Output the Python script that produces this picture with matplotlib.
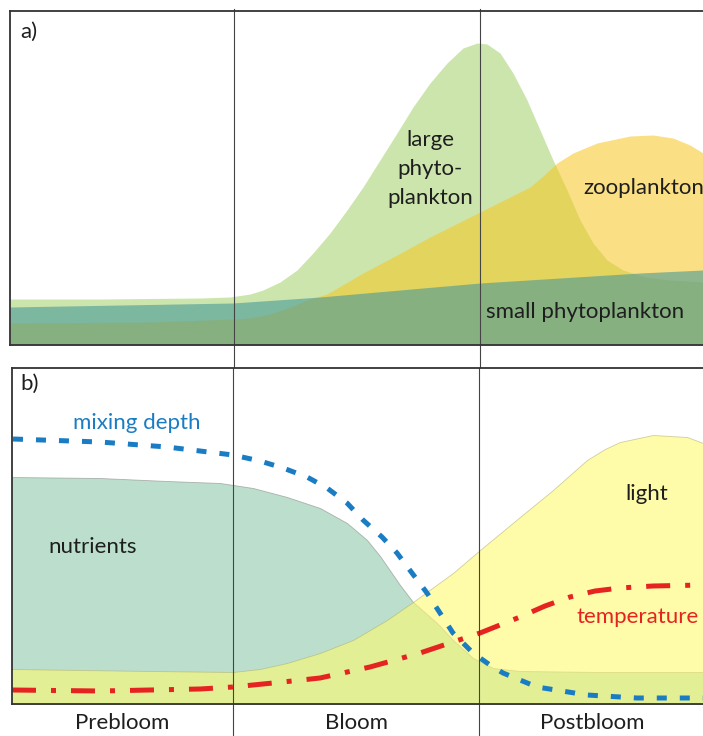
import matplotlib
matplotlib.use("Agg")
import matplotlib.pyplot as plt

plt.rcParams["font.family"] = ["Lato", "DejaVu Sans"]

# ── data (x in arbitrary time units, y in arbitrary magnitude units) ─────────

# panel a: plankton
large_x = [0, 90, 190, 220, 240, 253, 270, 287, 303, 320, 337, 353, 370,
           387, 403, 420, 437, 453, 467, 477, 490, 503, 517, 530, 543, 557,
           570, 583, 597, 613, 635, 660, 693]
large_y = [46, 46, 47, 48, 51, 55, 63, 75, 92, 112, 135, 158, 185,
           212, 238, 262, 282, 297, 302, 301, 292, 272, 245, 215, 185, 155,
           125, 102, 85, 75, 68, 65, 63]

zoo_x = [0, 140, 223, 240, 260, 280, 300, 317, 353, 387, 420, 470, 520,
         533, 547, 563, 587, 620, 643, 663, 680, 693]
zoo_y = [22, 23, 26, 27, 31, 38, 46, 51, 72, 90, 108, 133, 158,
         169, 182, 192, 202, 209, 210, 207, 200, 192]

small_x = [0, 223, 310, 390, 470, 550, 630, 693]
small_y = [38, 42, 48, 55, 62, 67, 72, 75]

# panel b: environment
nutr_x = [0, 90, 157, 210, 243, 277, 310, 337, 357, 370, 390, 403, 427,
          443, 463, 483, 510, 590, 693]
nutr_y = [227, 226, 223, 221, 216, 207, 196, 181, 164, 148, 119, 102, 81,
          64, 46, 36, 33, 32, 32]

light_x = [0, 140, 223, 250, 277, 310, 343, 377, 403, 443, 470, 510, 543,
           577, 595, 610, 643, 677, 693]
light_y = [35, 33, 32, 35, 41, 51, 64, 84, 102, 131, 154, 187, 214,
           244, 255, 262, 269, 267, 261]

mix_x = [3, 90, 157, 223, 250, 273, 297, 317, 337, 353, 372, 387, 402,
         417, 430, 443, 463, 480, 493, 527, 577, 627, 693]
mix_y = [265, 262, 257, 249, 243, 236, 227, 216, 201, 184, 167, 151, 131,
         111, 91, 71, 51, 39, 31, 17, 9, 6, 6]

temp_x = [2, 90, 190, 223, 273, 310, 360, 410, 440, 470, 510, 535, 560,
          585, 610, 643, 693]
temp_y = [14, 13, 15, 17, 22, 26, 37, 51, 61, 71, 87, 98, 107,
          113, 116, 118, 119]

phase_bounds = [223.5, 469.5]
phase_names = ["Prebloom", "Bloom", "Postbloom"]
phase_centres = [112, 347, 582]


# ── figure ────────────────────────────────────────────────────────────────────

fig = plt.figure(figsize=(7.03, 7.36), dpi=100)
H = 736.0
ax_a = fig.add_axes([10 / 703, 1 - 345 / H, 693 / 703, 334 / H])
ax_b = fig.add_axes([12 / 703, 1 - 704 / H, 691 / 703, 336 / H])

ax_a.set_xlim(0, 693)
ax_a.set_ylim(0, 334)
ax_b.set_xlim(2, 693)
ax_b.set_ylim(0, 336)

for ax in (ax_a, ax_b):
    ax.set_xticks([])
    ax.set_yticks([])
    ax.spines["right"].set_visible(False)
    for s in ("left", "top", "bottom"):
        ax.spines[s].set_linewidth(1.3)
        ax.spines[s].set_color("#333333")

TXT = "#1e1e1e"
FS = 16

# ── panel a ──────────────────────────────────────────────────────────────────
ax_a.fill_between(large_x, 0, large_y, color="#9ACD5A", alpha=0.5, lw=0)
ax_a.fill_between(zoo_x, 0, zoo_y, color="#F7C61F", alpha=0.55, lw=0)
ax_a.fill_between(small_x, 0, small_y, color="#489998", alpha=0.6, lw=0)

ax_a.text(10, 313, "a)", fontsize=FS, va="center", ha="left", color=TXT)
ax_a.text(420, 176, "large\nphyto-\nplankton", fontsize=FS, ha="center",
          va="center", linespacing=1.55, color=TXT)
ax_a.text(573, 157, "zooplankton", fontsize=FS, ha="left", va="center",
          color=TXT, clip_on=False)
ax_a.text(476, 33, "small phytoplankton", fontsize=FS, ha="left",
          va="center", color=TXT)

# ── panel b ──────────────────────────────────────────────────────────────────
ax_b.fill_between(nutr_x, 0, nutr_y, facecolor="#8FCBAB", alpha=0.6,
                  edgecolor="#888888", lw=0.6)
ax_b.fill_between(light_x, 0, light_y, facecolor="#FFFA70", alpha=0.6,
                  edgecolor="#B0B070", lw=0.6)

ax_b.plot(mix_x, mix_y, color="#1A7DC4", lw=3.6,
          linestyle=(0, (2.0, 2.6)), dash_capstyle="butt")
ax_b.plot(temp_x, temp_y, color="#E52421", lw=3.6,
          linestyle=(0, (4.8, 3.0, 1.0, 3.0)), dash_capstyle="butt")

ax_b.text(10, 320, "b)", fontsize=FS, va="center", ha="left", color=TXT)
ax_b.text(63, 281, "mixing depth", fontsize=FS, va="center", ha="left",
          color="#1A7DC4")
ax_b.text(38, 157, "nutrients", fontsize=FS, va="center", ha="left",
          color=TXT)
ax_b.text(615, 210, "light", fontsize=FS, va="center", ha="left",
          color=TXT)
ax_b.text(567, 87, "temperature", fontsize=FS, va="center", ha="left",
          color="#E52421", clip_on=False)

for name, xc in zip(phase_names, phase_centres):
    ax_b.text(xc, -19, name, fontsize=FS, ha="center", va="center",
              color=TXT, clip_on=False)

# phase boundaries run through both panels and the label strip
for xb in phase_bounds:
    ax_a.axvline(xb, ymin=-0.07, ymax=1.007, color="#444444", lw=0.8,
                 clip_on=False)
    ax_b.axvline(xb, ymin=-0.1, ymax=1.0, color="#444444", lw=0.8,
                 clip_on=False)

fig.savefig("out.png", dpi=100)
